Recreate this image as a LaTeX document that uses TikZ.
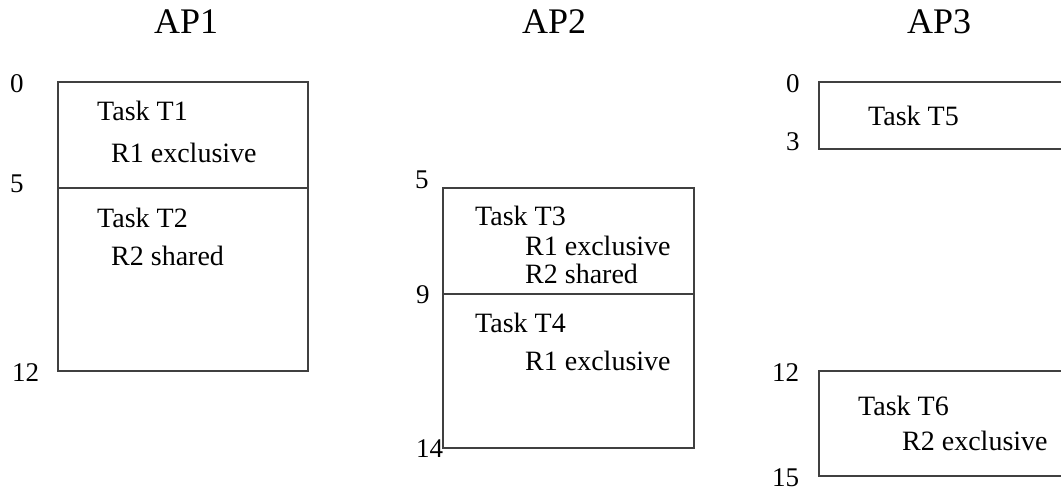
\documentclass[tikz,border=0pt]{standalone}
\usepackage{fontspec}
\setmainfont{Liberation Serif}
\begin{document}
\begin{tikzpicture}[x=1pt,y=-1pt,
  frame/.style={draw=black!75,line width=1.1pt},
  title/.style={anchor=base west,inner sep=0pt,font=\fontsize{36}{40}\selectfont},
  txt/.style={anchor=base west,inner sep=0pt,font=\fontsize{28}{30}\selectfont},
  tick/.style={anchor=base west,inner sep=0pt,font=\fontsize{27}{30}\selectfont}]
\useasboundingbox (0,0) rectangle (1061,491);

% column titles
\node[title] (ap1) at (154,33) {AP1};
\node[title] (ap2) at (522,33) {AP2};
\node[title] (ap3) at (907,33) {AP3};

% ---- AP1 ----
\draw[frame] (58,82) rectangle (308,371);
\draw[frame] (58,188) -- (308,188);
\node[tick] (a0)  at (10,92)  {0};
\node[tick] (a5)  at (10,192) {5};
\node[tick] (a12) at (12,381) {12};
\node[txt] (t1)  at (97,120)  {Task T1};
\node[txt] (t1r) at (111,162) {R1 exclusive};
\node[txt] (t2)  at (97,227)  {Task T2};
\node[txt] (t2r) at (111,265) {R2 shared};

% ---- AP2 ----
\draw[frame] (443,188) rectangle (694,448);
\draw[frame] (443,294) -- (694,294);
\node[tick] (b5)  at (415,188) {5};
\node[tick] (b9)  at (416,303) {9};
\node[tick] (b14) at (416,457) {14};
\node[txt] (t3)   at (475,225) {Task T3};
\node[txt] (t3r1) at (525,255) {R1 exclusive};
\node[txt] (t3r2) at (525,283) {R2 shared};
\node[txt] (t4)   at (475,332) {Task T4};
\node[txt] (t4r)  at (525,370) {R1 exclusive};

% ---- AP3 (slots run on past the right edge) ----
\draw[frame] (1061,82) -- (819,82) -- (819,149) -- (1061,149);
\draw[frame] (1061,371) -- (819,371) -- (819,476) -- (1061,476);
\node[tick] (c0)  at (786,92)  {0};
\node[tick] (c3)  at (786,150) {3};
\node[tick] (c12) at (772,381) {12};
\node[tick] (c15) at (772,486) {15};
\node[txt] (t5)  at (868,125) {Task T5};
\node[txt] (t6)  at (858,415) {Task T6};
\node[txt] (t6r) at (902,450) {R2 exclusive};
\end{tikzpicture}
\end{document}
